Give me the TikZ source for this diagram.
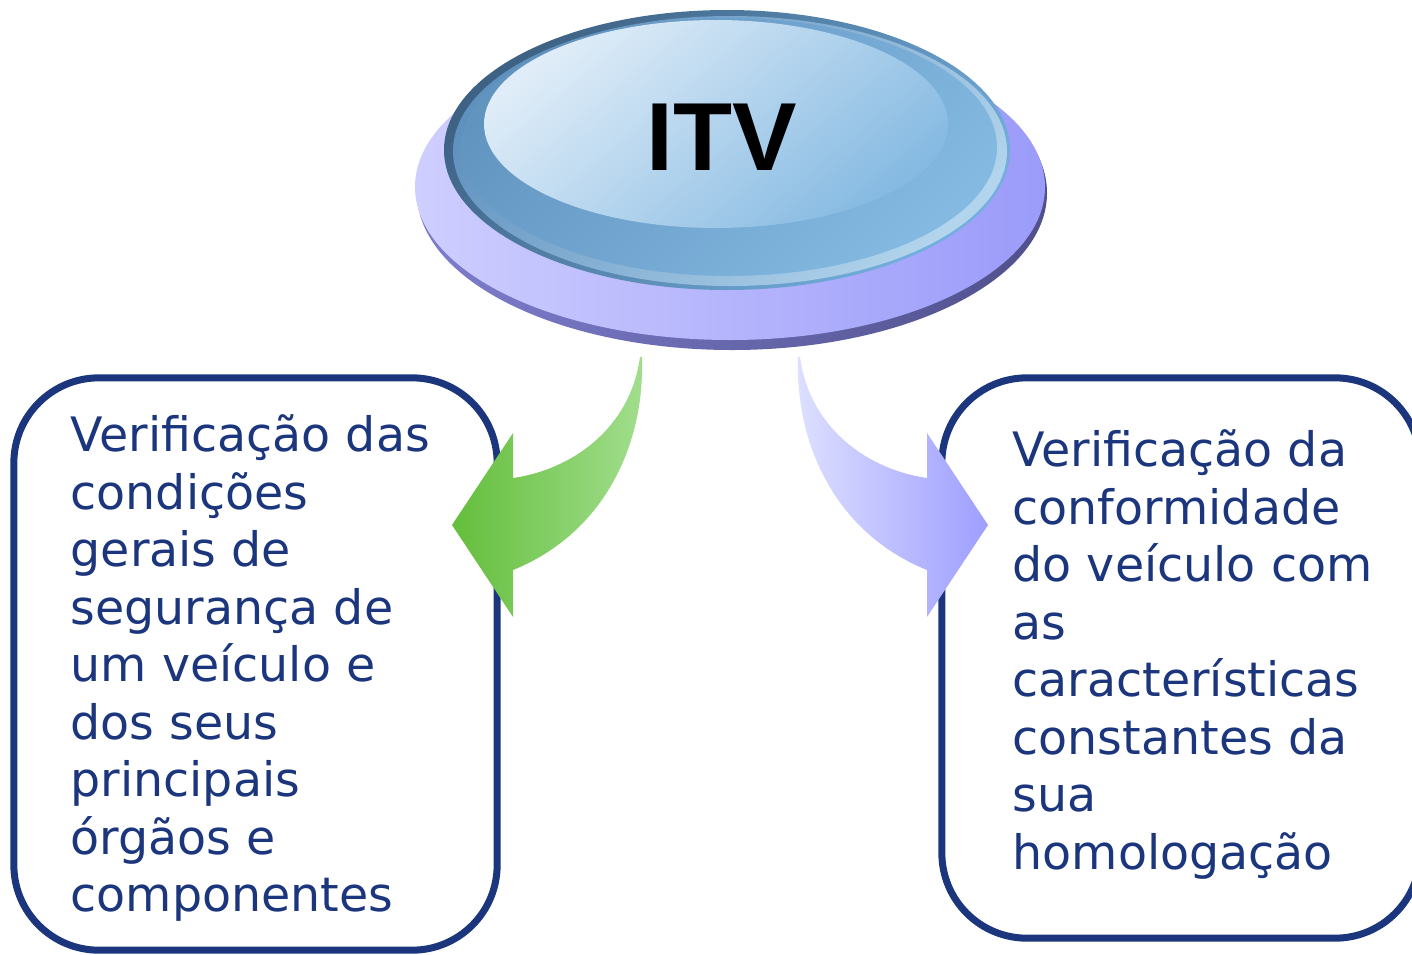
\documentclass[tikz,border=0pt]{standalone}
\usepackage{fontspec}
\setmainfont{DejaVu Sans}
\newfontfamily\itvfont{Liberation Sans}
\usetikzlibrary{shapes.geometric}
\definecolor{navy}{RGB}{27,54,125}
\tikzset{
  infobox/.style={draw=navy, line width=0.07cm, rounded corners=0.85cm, fill=white, inner sep=0pt},
  infotext/.style={anchor=north west, inner sep=0pt, align=left, text=navy, font=\fontsize{13.5}{16.36}\selectfont},
}
\begin{document}
\begin{tikzpicture}[x=0.01cm,y=-0.01cm]
\useasboundingbox (0,0) rectangle (1412,954);
\clip (0,0) rectangle (1412,954);
% base disk
\shade[left color={rgb,255:red,125;green,125;blue,205}, right color={rgb,255:red,80;green,80;blue,140}] (732,193) ellipse [x radius=315, y radius=157];
\shade[left color={rgb,255:red,206;green,206;blue,255}, right color={rgb,255:red,155;green,155;blue,250}] (730,187) ellipse [x radius=315, y radius=153];
% blue button
\shade[top color={rgb,255:red,62;green,98;blue,132}, bottom color={rgb,255:red,115;green,175;blue,222}, shading angle=45] (727,150) ellipse [x radius=283, y radius=140];
\shade[top color={rgb,255:red,95;green,145;blue,190}, bottom color={rgb,255:red,178;green,212;blue,236}, shading angle=45] (730,151) ellipse [x radius=277, y radius=135];
\shade[top color={rgb,255:red,98;green,148;blue,192}, bottom color={rgb,255:red,132;green,186;blue,226}, shading angle=45] (729,147) ellipse [x radius=268, y radius=129];
\shade[top color={rgb,255:red,224;green,237;blue,248}, bottom color={rgb,255:red,134;green,186;blue,226}, shading angle=40] (716,124) ellipse [x radius=232, y radius=104];
\node (itv) at (722,137) {\itvfont\bfseries\fontsize{27.5}{30}\selectfont ITV};
% boxes
\node[infobox, minimum width=4.83cm, minimum height=5.72cm] (lbox) at (255.5,664) {};
\node[infobox, minimum width=4.78cm, minimum height=5.60cm] (rbox) at (1181,658) {};
\node[infotext] (ltext) at (70,414) {Verificação das\\condições\\gerais de\\segurança de\\um veículo e\\dos seus\\principais\\órgãos e\\componentes};
\node[infotext] (rtext) at (1012,429) {Verificação da\\conformidade\\do veículo com\\as\\características\\constantes da\\sua\\homologação};
% arrows
\shade[left color={rgb,255:red,100;green,190;blue,60}, right color={rgb,255:red,162;green,222;blue,142}]
  (640,357) .. controls (630,430) and (570,470) .. (513,478) -- (513,433) -- (452,525) -- (513,617) -- (513,570) .. controls (600,535) and (645,450) .. (642,357) -- cycle;
\shade[left color={rgb,255:red,222;green,224;blue,255}, right color={rgb,255:red,158;green,158;blue,255}]
  (800,357) .. controls (810,430) and (870,470) .. (927,478) -- (927,433) -- (988,525) -- (927,617) -- (927,570) .. controls (840,535) and (795,450) .. (798,357) -- cycle;
\end{tikzpicture}
\end{document}
